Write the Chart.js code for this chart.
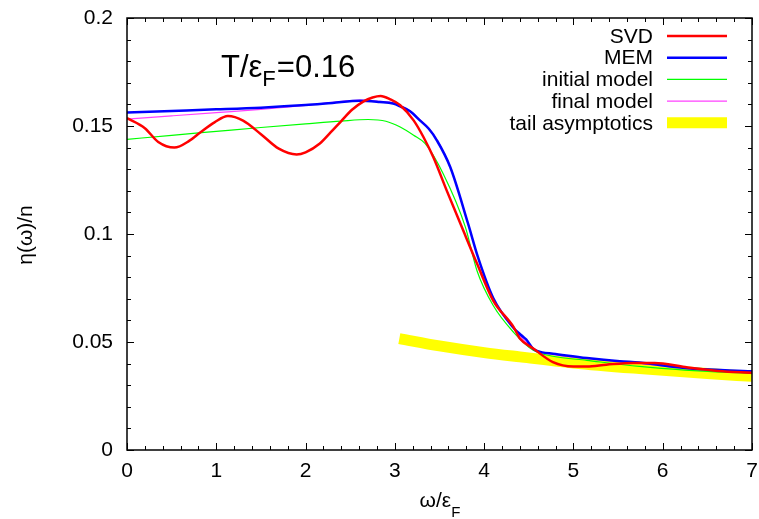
<!DOCTYPE html>
<html>
<head>
<meta charset="utf-8">
<script src="https://cdn.jsdelivr.net/npm/chart.js@4.4.1/dist/chart.umd.min.js"></script>
<style>
  html, body { margin: 0; padding: 0; background: #fff; }
  #wrap { width: 759px; height: 519px; }
</style>
</head>
<body>
<div id="wrap"><canvas id="myChart" width="759" height="519"></canvas></div>
<script>
// values, omega/eF on x, eta/n on y
const svdW   = [0, 0.2, 0.35, 0.53, 0.7, 0.82, 0.98, 1.13, 1.3, 1.5, 1.7, 1.9, 2.0, 2.16, 2.28, 2.4, 2.52, 2.65, 2.75, 2.84, 2.95, 3.06, 3.21, 3.32, 3.43, 3.58, 3.75, 3.92, 4.1, 4.33, 4.4, 4.55, 4.77, 5.0, 5.15, 5.37, 5.67, 5.91, 6.25, 6.62, 7.0];
const svdEta = [0.1537, 0.149, 0.1426, 0.140, 0.1432, 0.147, 0.1517, 0.1546, 0.1525, 0.1462, 0.1395, 0.1368, 0.1378, 0.1419, 0.147, 0.1523, 0.1575, 0.1614, 0.1632, 0.1639, 0.1623, 0.1596, 0.1526, 0.1449, 0.1356, 0.1202, 0.1032, 0.0863, 0.0693, 0.0569, 0.0516, 0.047, 0.0407, 0.0387, 0.0387, 0.0395, 0.0403, 0.0403, 0.0384, 0.0366, 0.0358];

const memW   = [0, 0.5, 1.0, 1.5, 2.0, 2.3, 2.61, 2.83, 2.98, 3.06, 3.17, 3.28, 3.38, 3.47, 3.62, 3.82, 3.93, 4.1, 4.33, 4.42, 4.47, 4.55, 4.65, 4.77, 5.15, 5.52, 5.74, 6.25, 7.0];
const memEta = [0.1563, 0.157, 0.1577, 0.1585, 0.1597, 0.1607, 0.1617, 0.1611, 0.1604, 0.1591, 0.1568, 0.1526, 0.1487, 0.1434, 0.131, 0.1048, 0.0894, 0.0705, 0.0565, 0.053, 0.0512, 0.0468, 0.0452, 0.0446, 0.0426, 0.0411, 0.0405, 0.038, 0.0364];

const initW   = [0, 0.5, 1.0, 1.5, 2.0, 2.4, 2.7, 2.9, 3.06, 3.21, 3.34, 3.54, 3.79, 3.92, 4.1, 4.33, 4.55, 4.77, 5.15, 5.74, 6.25, 7.0];
const initEta = [0.1438, 0.1457, 0.1475, 0.1493, 0.151, 0.1523, 0.153, 0.1522, 0.1495, 0.1457, 0.1418, 0.128, 0.1032, 0.083, 0.067, 0.0545, 0.0462, 0.0434, 0.0415, 0.0387, 0.037, 0.0354];

const finalW   = [0, 0.5, 1.0, 1.5, 2.0, 2.3, 2.61, 2.83, 2.98, 3.06, 3.17, 3.28, 3.38, 3.47, 3.62, 3.82, 3.93, 4.1, 4.33, 4.55, 4.77, 5.15, 5.52, 6.25, 7.0];
const finalEta = [0.1532, 0.1547, 0.1562, 0.1577, 0.1595, 0.1609, 0.162, 0.1614, 0.1607, 0.1594, 0.1571, 0.1529, 0.149, 0.1437, 0.1312, 0.1048, 0.0893, 0.0702, 0.0565, 0.0468, 0.0443, 0.0424, 0.041, 0.0379, 0.0363];

const tailW   = [3.05, 3.5, 4.0, 4.4, 5.0, 5.74, 6.5, 7.0];
const tailEta = [0.0516, 0.0482, 0.0451, 0.0431, 0.0403, 0.0377, 0.0354, 0.0341];

const seriesNames = ['SVD', 'MEM', 'initial model', 'final model', 'tail asymptotics'];
const xTickLabels = ['0', '1', '2', '3', '4', '5', '6', '7'];
const yTickLabels = ['0', '0.05', '0.1', '0.15', '0.2'];

const FONT = '"Liberation Sans", Arial, Helvetica, sans-serif';

function pts(xs, ys) {
    return xs.map((x, i) => ({x: x, y: ys[i]}));
}

// gnuplot style frame: inward ticks on all four sides, minor ones too
const frameTicks = {
    id: 'frameTicks',
    afterDatasetsDraw(chart) {
        const {ctx, chartArea: a, scales: {x, y}} = chart;
        ctx.save();
        ctx.strokeStyle = '#000';
        ctx.lineWidth = 1;
        ctx.beginPath();
        for (let i = 0; i <= 35; i++) {
            const px = Math.round(x.getPixelForValue(i * 0.2)) + 0.5;
            const len = i % 5 === 0 ? 7 : 4;
            ctx.moveTo(px, a.bottom); ctx.lineTo(px, a.bottom - len);
            ctx.moveTo(px, a.top); ctx.lineTo(px, a.top + len);
        }
        for (let i = 0; i <= 20; i++) {
            const py = Math.round(y.getPixelForValue(i * 0.01)) + 0.5;
            const len = i % 5 === 0 ? 7 : 4;
            ctx.moveTo(a.left, py); ctx.lineTo(a.left + len, py);
            ctx.moveTo(a.right, py); ctx.lineTo(a.right - len, py);
        }
        ctx.stroke();
        ctx.lineWidth = 1.5;
        ctx.strokeRect(a.left, a.top, a.right - a.left, a.bottom - a.top);
        ctx.restore();
    }
};

// texts with subscripts, and the right aligned key
const labels = {
    id: 'labels',
    afterDraw(chart) {
        const {ctx, chartArea: a} = chart;
        ctx.save();
        ctx.fillStyle = '#000';
        ctx.textBaseline = 'alphabetic';

        // T/eF=0.16
        let tx = a.left + 94, ty = a.top + 59;
        ctx.font = '31px ' + FONT;
        ctx.textAlign = 'left';
        ctx.fillText('T/ε', tx, ty);
        tx += ctx.measureText('T/ε').width;
        ctx.font = '22px ' + FONT;
        ctx.fillText('F', tx, ty + 9);
        tx += ctx.measureText('F').width + 1;
        ctx.font = '31px ' + FONT;
        ctx.fillText('=0.16', tx, ty);

        // x axis title
        ctx.font = '21px ' + FONT;
        const main = 'ω/ε';
        const mw = ctx.measureText(main).width;
        ctx.font = '15px ' + FONT;
        const sw = ctx.measureText('F').width;
        let lx = 440 - (mw + sw) / 2;
        ctx.font = '21px ' + FONT;
        ctx.fillText(main, lx, 507);
        ctx.font = '15px ' + FONT;
        ctx.fillText('F', lx + mw, 517);

        // y axis title
        ctx.save();
        ctx.translate(26, 235);
        ctx.rotate(-Math.PI / 2);
        ctx.font = '21px ' + FONT;
        ctx.textAlign = 'center';
        ctx.textBaseline = 'middle';
        ctx.fillText('η(ω)/n', 0, 0);
        ctx.restore();

        // key
        ctx.font = '21px ' + FONT;
        ctx.textAlign = 'right';
        ctx.textBaseline = 'middle';
        chart.data.datasets.forEach((ds, i) => {
            const ry = a.top + 18 + i * 21.7;
            ctx.fillText(ds.label, a.right - 99, ry + 1);
            ctx.strokeStyle = ds.borderColor;
            ctx.lineWidth = ds.borderWidth;
            ctx.lineCap = 'butt';
            ctx.beginPath();
            ctx.moveTo(a.right - 85, ry);
            ctx.lineTo(a.right - 25, ry);
            ctx.stroke();
        });
        ctx.restore();
    }
};

const ctx = document.getElementById('myChart').getContext('2d');
const myChart = new Chart(ctx, {
    type: 'line',
    data: {
        datasets: [
            {label: seriesNames[0], data: pts(svdW, svdEta), borderColor: '#ff0000', borderWidth: 2.5},
            {label: seriesNames[1], data: pts(memW, memEta), borderColor: '#0000ff', borderWidth: 2.5},
            {label: seriesNames[2], data: pts(initW, initEta), borderColor: '#00ff00', borderWidth: 1.2},
            {label: seriesNames[3], data: pts(finalW, finalEta), borderColor: '#ff40ff', borderWidth: 1.2},
            {label: seriesNames[4], data: pts(tailW, tailEta), borderColor: '#ffff00', borderWidth: 11}
        ]
    },
    options: {
        responsive: false,
        animation: false,
        devicePixelRatio: 1,
        layout: { padding: {left: 0, right: 7, top: 18, bottom: 0} },
        elements: {
            point: { radius: 0 },
            line: { cubicInterpolationMode: 'monotone', borderCapStyle: 'butt', fill: false }
        },
        plugins: {
            legend: { display: false },
            tooltip: { enabled: false },
            title: { display: false }
        },
        scales: {
            x: {
                type: 'linear',
                min: 0,
                max: 7,
                afterFit(scale) {
                    scale.height = 69;
                    scale.paddingLeft = 0;
                    scale.paddingRight = 0;
                },
                ticks: {
                    stepSize: 1,
                    padding: 9,
                    color: '#000',
                    font: { family: FONT, size: 21 },
                    callback: (v, i) => xTickLabels[i]
                },
                grid: { display: false, drawTicks: false },
                border: { display: false }
            },
            y: {
                min: 0,
                max: 0.2,
                afterFit(scale) {
                    scale.width = 127;
                    scale.paddingTop = 0;
                    scale.paddingBottom = 0;
                },
                ticks: {
                    stepSize: 0.05,
                    padding: 14,
                    color: '#000',
                    font: { family: FONT, size: 21 },
                    callback: (v, i) => yTickLabels[i]
                },
                grid: { display: false, drawTicks: false },
                border: { display: false }
            }
        }
    },
    plugins: [frameTicks, labels]
});
</script>
</body>
</html>
